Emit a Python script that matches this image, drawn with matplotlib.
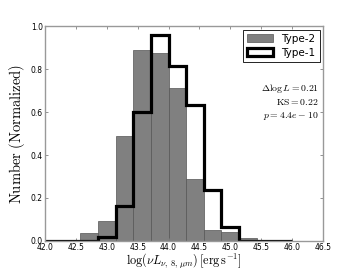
import numpy as np
import matplotlib
matplotlib.use('Agg')
import matplotlib.pyplot as plt
from matplotlib.patches import Patch

plt.rcParams['mathtext.fontset'] = 'cm'

# bin edges: 14 bins between 42 and 46
edges = np.linspace(42.0, 46.0, 15)
centers = 0.5 * (edges[:-1] + edges[1:])

type2 = [0.0, 0.0, 0.037, 0.094, 0.49, 0.89, 0.878, 0.711, 0.287, 0.051, 0.039, 0.011, 0.003, 0.0]
type1 = [0.0, 0.0, 0.0, 0.017, 0.161, 0.603, 0.958, 0.815, 0.632, 0.238, 0.065, 0.0, 0.0, 0.0]

stats = [r'$\Delta\log L = 0.21$', r'$\mathrm{KS} = 0.22$', r'$p = 4.4e-10$']

fig = plt.figure(figsize=(3.6, 2.7), dpi=100)
ax = fig.add_axes([0.125, 0.108, 0.772, 0.794])

ax.hist(centers, bins=edges, weights=type2, histtype='bar', color='#808080',
        edgecolor='#555555', lw=0.5, label='Type-2')
ax.hist(centers, bins=edges, weights=type1, histtype='step', color='black',
        lw=2.3, label='Type-1')

ax.set_xlim(42.0, 46.5)
ax.set_ylim(0, 1.0)
ax.set_xticks(np.arange(42.0, 46.51, 0.5))
ax.set_yticks(np.arange(0, 1.01, 0.2))
ax.tick_params(direction='in', top=True, right=True, labelsize=5.5, length=2,
               width=0.6, color='#808080', pad=1.5)
for s in ax.spines.values():
    s.set_color('#999999')
    s.set_linewidth(1.0)

ax.set_xlabel(r'$\log(\nu L_{\nu,\,8,\,\mu m})\,[\mathrm{erg\,s^{-1}}]$', fontsize=8.8, labelpad=-0.3)
ax.set_ylabel(r'$\mathrm{Number\ (Normalized)}$', fontsize=10.5, labelpad=3)

# legend with custom patches so Type-1 shows as open box
handles = [Patch(facecolor='#808080', edgecolor='#555555', lw=0.5, label='Type-2'),
           Patch(facecolor='white', edgecolor='black', lw=2.3, label='Type-1')]
leg = ax.legend(handles=handles, loc='upper right', fontsize=7.5, fancybox=False,
                framealpha=1, borderaxespad=0.3, handlelength=2.5, handleheight=0.8,
                borderpad=0.4, labelspacing=0.4)
leg.get_frame().set_edgecolor('black')
leg.get_frame().set_linewidth(0.6)

for i, t in enumerate(stats):
    ax.text(0.985, 0.71 - i * 0.063, t, transform=ax.transAxes, ha='right',
            va='center', fontsize=7)

fig.savefig('out.png', dpi=100)
